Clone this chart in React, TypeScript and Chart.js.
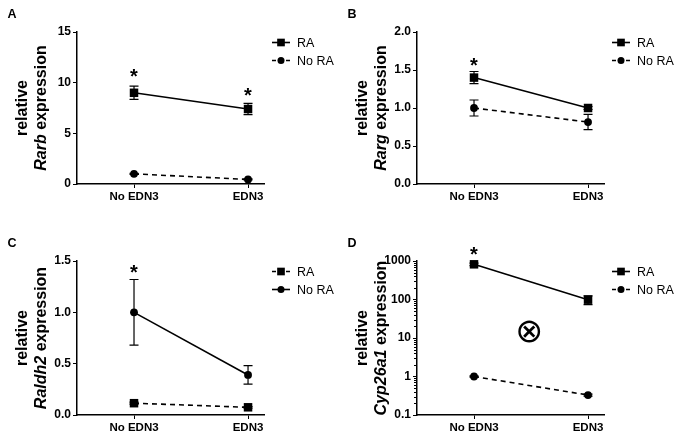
import React, { useEffect, useRef } from "react";
import { Chart, registerables } from "chart.js";

Chart.register(...registerables);

const FONT = "'Liberation Sans', Arial, Helvetica, sans-serif";

const categories = ["No EDN3", "EDN3"];

// Panel A – Rarb
const rarbRA = [9.0, 7.4];
const rarbRAErr = [0.65, 0.55];
const rarbNoRA = [1.0, 0.45];
const rarbNoRAErr = [0.06, 0.05];
const rarbStars: (number | null)[] = [10.98, 9.03];
const rarbTicks = [0, 5, 10, 15];
const rarbTickLabels = ["0", "5", "10", "15"];

// Panel B – Rarg
const rargRA = [1.4, 1.0];
const rargRAErr = [0.08, 0.02];
const rargNoRA = [1.0, 0.815];
const rargNoRAErr = [0.105, 0.1];
const rargStars: (number | null)[] = [1.61, null];
const rargTicks = [0, 0.5, 1, 1.5, 2];
const rargTickLabels = ["0.0", "0.5", "1.0", "1.5", "2.0"];

// Panel C – Raldh2
const raldhRA = [0.115, 0.075];
const raldhRAErr = [0.01, 0.008];
const raldhNoRA = [1.0, 0.39];
const raldhNoRAErr = [0.32, 0.09];
const raldhStars: (number | null)[] = [1.425, null];
const raldhTicks = [0, 0.5, 1, 1.5];
const raldhTickLabels = ["0.0", "0.5", "1.0", "1.5"];

// Panel D – Cyp26a1 (log scale)
const cypRA = [820, 99];
const cypRAErr = [60, 25];
const cypNoRA = [1.0, 0.33];
const cypNoRAErr = [0.04, 0.02];
const cypStars: (number | null)[] = [1790, null];
const cypTicks = [0.1, 1, 10, 100, 1000];
const cypTickLabels = ["0.1", "1", "10", "100", "1000"];
const cypSymbol = { x: 0.485, y: 15, text: "⊗" };

interface SeriesDef {
  label: string;
  values: number[];
  errors: number[];
  marker: "rect" | "circle";
  dashed: boolean;
}
interface PanelDef {
  letter: string;
  gene: string;
  left: number;
  top: number;
  width: number;
  height: number;
  areaTop: number;
  areaBottom: number;
  log: boolean;
  yMin: number;
  yMax: number;
  yTicks: number[];
  yTickLabels: string[];
  series: SeriesDef[];
  stars: (number | null)[];
  symbol?: { x: number; y: number; text: string };
}

const AREA_LEFT = 77;
const AREA_RIGHT = 264;
const X_MIN = -0.5;
const X_MAX = 1.14;

const panels: PanelDef[] = [
  {
    letter: "A", gene: "Rarb", left: 0, top: 0, width: 340, height: 218, areaTop: 32, areaBottom: 184,
    log: false, yMin: 0, yMax: 15, yTicks: rarbTicks, yTickLabels: rarbTickLabels,
    series: [
      { label: "RA", values: rarbRA, errors: rarbRAErr, marker: "rect", dashed: false },
      { label: "No RA", values: rarbNoRA, errors: rarbNoRAErr, marker: "circle", dashed: true },
    ],
    stars: rarbStars,
  },
  {
    letter: "B", gene: "Rarg", left: 340, top: 0, width: 343, height: 218, areaTop: 32, areaBottom: 184,
    log: false, yMin: 0, yMax: 2, yTicks: rargTicks, yTickLabels: rargTickLabels,
    series: [
      { label: "RA", values: rargRA, errors: rargRAErr, marker: "rect", dashed: false },
      { label: "No RA", values: rargNoRA, errors: rargNoRAErr, marker: "circle", dashed: true },
    ],
    stars: rargStars,
  },
  {
    letter: "C", gene: "Raldh2", left: 0, top: 218, width: 340, height: 218, areaTop: 43, areaBottom: 197,
    log: false, yMin: 0, yMax: 1.5, yTicks: raldhTicks, yTickLabels: raldhTickLabels,
    series: [
      { label: "RA", values: raldhRA, errors: raldhRAErr, marker: "rect", dashed: true },
      { label: "No RA", values: raldhNoRA, errors: raldhNoRAErr, marker: "circle", dashed: false },
    ],
    stars: raldhStars,
  },
  {
    letter: "D", gene: "Cyp26a1", left: 340, top: 218, width: 343, height: 218, areaTop: 43, areaBottom: 197,
    log: true, yMin: 0.1, yMax: 1000, yTicks: cypTicks, yTickLabels: cypTickLabels,
    series: [
      { label: "RA", values: cypRA, errors: cypRAErr, marker: "rect", dashed: false },
      { label: "No RA", values: cypNoRA, errors: cypNoRAErr, marker: "circle", dashed: true },
    ],
    stars: cypStars,
    symbol: cypSymbol,
  },
];

const SQUARE = 8.5;
const CIRCLE_R = 3.9;

function drawMarker(ctx: CanvasRenderingContext2D, kind: "rect" | "circle", x: number, y: number, scale = 1) {
  ctx.fillStyle = "#000";
  if (kind === "rect") {
    const s = SQUARE * scale;
    ctx.fillRect(x - s / 2, y - s / 2, s, s);
  } else {
    ctx.beginPath();
    ctx.arc(x, y, CIRCLE_R * scale, 0, Math.PI * 2);
    ctx.fill();
  }
}

function makePlugin(p: PanelDef) {
  return {
    id: "panelDecor",
    beforeDatasetsDraw(chart: any) {
      const ctx: CanvasRenderingContext2D = chart.ctx;
      const xs = chart.scales.x;
      const ys = chart.scales.y;
      ctx.save();
      ctx.strokeStyle = "#000";
      ctx.lineWidth = 1.2;
      ctx.setLineDash([]);
      p.series.forEach((s) => {
        s.values.forEach((v, i) => {
          const e = s.errors[i];
          if (!e) return;
          const px = xs.getPixelForValue(i);
          const lo = p.log ? Math.max(v - e, p.yMin * 0.5) : v - e;
          const top = ys.getPixelForValue(v + e);
          const bot = ys.getPixelForValue(lo);
          ctx.beginPath();
          ctx.moveTo(px, top);
          ctx.lineTo(px, bot);
          ctx.moveTo(px - 4.5, top);
          ctx.lineTo(px + 4.5, top);
          ctx.moveTo(px - 4.5, bot);
          ctx.lineTo(px + 4.5, bot);
          ctx.stroke();
        });
      });
      ctx.restore();
    },
    afterDraw(chart: any) {
      const ctx: CanvasRenderingContext2D = chart.ctx;
      const area = chart.chartArea;
      const xs = chart.scales.x;
      const ys = chart.scales.y;
      ctx.save();
      ctx.fillStyle = "#000";
      ctx.strokeStyle = "#000";

      // panel letter
      ctx.font = `bold 12.5px ${FONT}`;
      ctx.textAlign = "left";
      ctx.textBaseline = "alphabetic";
      ctx.fillText(p.letter, 7.5, p.areaTop - 14.5);

      // y-axis title (two lines, rotated)
      const cy = (area.top + area.bottom) / 2;
      ctx.save();
      ctx.translate(23, cy);
      ctx.rotate(-Math.PI / 2);
      ctx.textAlign = "center";
      ctx.textBaseline = "middle";
      ctx.font = `bold 16px ${FONT}`;
      ctx.fillText("relative", 0, 0);
      ctx.restore();

      ctx.save();
      ctx.translate(42, cy);
      ctx.rotate(-Math.PI / 2);
      ctx.textAlign = "left";
      ctx.textBaseline = "middle";
      const fItalic = `italic bold 16px ${FONT}`;
      const fBold = `bold 16px ${FONT}`;
      ctx.font = fItalic;
      const w1 = ctx.measureText(p.gene).width;
      ctx.font = fBold;
      const rest = " expression";
      const w2 = ctx.measureText(rest).width;
      const sx = -(w1 + w2) / 2;
      ctx.font = fItalic;
      ctx.fillText(p.gene, sx, 0);
      ctx.font = fBold;
      ctx.fillText(rest, sx + w1, 0);
      ctx.restore();

      // legend
      const legendY = [area.top + 10.5, area.top + 28.5];
      const lx0 = 272;
      const lx1 = 290;
      p.series.forEach((s, k) => {
        const y = legendY[k];
        ctx.lineWidth = 1.6;
        ctx.setLineDash(s.dashed ? [4, 3] : []);
        ctx.beginPath();
        ctx.moveTo(lx0, y);
        ctx.lineTo(lx1, y);
        ctx.stroke();
        ctx.setLineDash([]);
        drawMarker(ctx, s.marker, (lx0 + lx1) / 2, y, 0.9);
        ctx.font = `12.5px ${FONT}`;
        ctx.textAlign = "left";
        ctx.textBaseline = "alphabetic";
        ctx.fillText(s.label, 297, y + 0.358 * 12.5);
      });

      // significance stars
      ctx.font = `bold 20px ${FONT}`;
      ctx.textAlign = "left";
      ctx.textBaseline = "alphabetic";
      p.stars.forEach((v, i) => {
        if (v == null) return;
        const m = ctx.measureText("*");
        const cx = xs.getPixelForValue(i);
        const cyy = ys.getPixelForValue(v);
        const x = cx - (m.actualBoundingBoxRight - m.actualBoundingBoxLeft) / 2;
        const y = cyy - (m.actualBoundingBoxDescent - m.actualBoundingBoxAscent) / 2;
        ctx.fillText("*", x, y);
      });

      // minor ticks on log axis
      if (p.log) {
        ctx.lineWidth = 1;
        ctx.beginPath();
        for (let e = Math.round(Math.log10(p.yMin)); e < Math.round(Math.log10(p.yMax)); e++) {
          for (let k = 2; k <= 9; k++) {
            const y = Math.round(ys.getPixelForValue(k * Math.pow(10, e))) + 0.5;
            ctx.moveTo(area.left - 3, y);
            ctx.lineTo(area.left, y);
          }
        }
        ctx.stroke();
      }

      // symbol
      if (p.symbol) {
        const sym = p.symbol;
        ctx.font = `100px 'DejaVu Sans'`;
        const m0 = ctx.measureText(sym.text);
        const w0 = m0.actualBoundingBoxRight + m0.actualBoundingBoxLeft;
        const size = (100 * 22) / w0;
        ctx.font = `${size}px 'DejaVu Sans'`;
        const m = ctx.measureText(sym.text);
        const cx = xs.getPixelForValue(sym.x);
        const cyy = ys.getPixelForValue(sym.y);
        const x = cx - (m.actualBoundingBoxRight - m.actualBoundingBoxLeft) / 2;
        const y = cyy - (m.actualBoundingBoxDescent - m.actualBoundingBoxAscent) / 2;
        ctx.textAlign = "left";
        ctx.fillText(sym.text, x, y);
      }
      ctx.restore();
    },
  };
}

function buildConfig(p: PanelDef): any {
  const xTickFont = { family: FONT, size: 11.5, weight: "bold" as const };
  const yTickFont = { family: FONT, size: 12, weight: "bold" as const };
  return {
    type: "line",
    data: {
      datasets: p.series.map((s) => ({
        label: s.label,
        data: s.values.map((v, i) => ({ x: i, y: v })),
        borderColor: "#000",
        backgroundColor: "#000",
        borderWidth: 1.6,
        borderDash: s.dashed ? [5, 4] : [],
        pointStyle: s.marker,
        pointRadius: s.marker === "rect" ? SQUARE / (2 * Math.SQRT1_2) : CIRCLE_R,
        pointBorderWidth: 0,
        pointBackgroundColor: "#000",
        pointBorderColor: "#000",
        tension: 0,
        clip: false,
      })),
    },
    options: {
      animation: false,
      responsive: false,
      maintainAspectRatio: false,
      devicePixelRatio: 1,
      events: [],
      layout: { padding: { left: 0, top: p.areaTop, right: p.width - AREA_RIGHT, bottom: 0 } },
      plugins: { legend: { display: false }, tooltip: { enabled: false }, title: { display: false } },
      scales: {
        x: {
          type: "linear",
          min: X_MIN,
          max: X_MAX,
          afterBuildTicks: (s: any) => {
            s.ticks = categories.map((_, i) => ({ value: i }));
          },
          afterFit: (s: any) => {
            s.height = p.height - p.areaBottom;
          },
          ticks: {
            callback: (_v: any, i: number) => categories[i],
            font: xTickFont,
            color: "#000",
            padding: 2,
            autoSkip: false,
            maxRotation: 0,
          },
          grid: { display: true, drawOnChartArea: false, drawTicks: true, tickLength: 4, color: "#000", lineWidth: 1 },
          border: { display: true, color: "#000", width: 1.5 },
        },
        y: {
          type: p.log ? "logarithmic" : "linear",
          min: p.yMin,
          max: p.yMax,
          afterBuildTicks: (s: any) => {
            s.ticks = p.yTicks.map((v) => ({ value: v }));
          },
          afterFit: (s: any) => {
            s.width = AREA_LEFT;
          },
          ticks: {
            callback: (_v: any, i: number) => p.yTickLabels[i],
            font: yTickFont,
            color: "#000",
            padding: 2,
            autoSkip: false,
          },
          grid: { display: true, drawOnChartArea: false, drawTicks: true, tickLength: 4, color: "#000", lineWidth: 1 },
          border: { display: true, color: "#000", width: 1.5 },
        },
      },
    },
    plugins: [makePlugin(p)],
  };
}

function Panel({ def }: { def: PanelDef }) {
  const ref = useRef<HTMLCanvasElement>(null);
  useEffect(() => {
    if (!ref.current) return;
    const chart = new Chart(ref.current, buildConfig(def));
    return () => chart.destroy();
  }, [def]);
  return (
    <canvas
      ref={ref}
      width={def.width}
      height={def.height}
      style={{ position: "absolute", left: def.left, top: def.top, width: def.width, height: def.height }}
    />
  );
}

export default function App() {
  return (
    <div style={{ position: "fixed", left: 0, top: 0, width: 683, height: 436, background: "#fff", overflow: "hidden" }}>
      {panels.map((p) => (
        <Panel key={p.letter} def={p} />
      ))}
    </div>
  );
}
